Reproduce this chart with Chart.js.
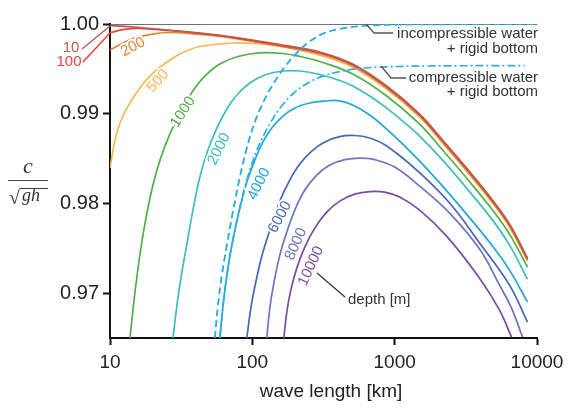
<!DOCTYPE html>
<html>
<head>
<meta charset="utf-8">
<script src="https://cdn.jsdelivr.net/npm/chart.js@4.4.1/dist/chart.umd.min.js"></script>
<style>
  html, body { margin: 0; padding: 0; background: #fff; }
  canvas { display: block; }
</style>
</head>
<body>
<canvas id="chart" width="573" height="408"></canvas>
<script>
// [wave length km, c/sqrt(gh)], one list per depth
const depth10 = [[10, 0.99983], [16.24, 0.99961], [25.12, 0.99933], [42.81, 0.999], [72.99, 0.99855], [163.7, 0.99766], [297.7, 0.99688], [507.4, 0.99554], [878.5, 0.99309], [1498, 0.98996], [2172, 0.98706], [3201, 0.98394], [4872, 0.98037], [6412, 0.9777], [8577, 0.9739]];
const depth100 = [[10, 0.999], [11.75, 0.99931], [13.81, 0.99946], [16.24, 0.99952], [25.12, 0.99928], [42.81, 0.99895], [72.99, 0.99849], [163.7, 0.99757], [297.7, 0.99679], [507.4, 0.99545], [878.5, 0.993], [1498, 0.98987], [2172, 0.98697], [3201, 0.98385], [4872, 0.98028], [6412, 0.97761], [8577, 0.97381]];
const depth200 = [[10, 0.9971], [11.75, 0.99771], [14.5, 0.99838], [19.09, 0.99883], [25.12, 0.99905], [42.81, 0.99883], [72.99, 0.99842], [163.7, 0.99746], [297.7, 0.99668], [507.4, 0.99534], [878.5, 0.99289], [1498, 0.98976], [2172, 0.98686], [3201, 0.98374], [4872, 0.98017], [6412, 0.9775], [8577, 0.9737]];
const depth500 = [[10, 0.98394], [10.84, 0.98706], [11.75, 0.98896], [13.16, 0.99063], [14.98, 0.99208], [17.04, 0.99331], [19.09, 0.9942], [25.12, 0.99576], [32.53, 0.99682], [42.81, 0.99749], [72.99, 0.99788], [126.4, 0.99772], [192.4, 0.99725], [297.7, 0.99653], [507.4, 0.99519], [878.5, 0.99274], [1498, 0.98961], [2172, 0.98671], [3201, 0.98359], [4872, 0.98002], [6412, 0.97735], [8577, 0.97355]];
const depth1000 = [[13.81, 0.965], [15.22, 0.97101], [17.04, 0.97647], [19.09, 0.9806], [21.37, 0.98372], [24.32, 0.98639], [28.59, 0.98896], [33.6, 0.99108], [39.49, 0.99286], [46.42, 0.9942], [59.15, 0.99554], [81.71, 0.99643], [112.9, 0.99679], [163.7, 0.99671], [215.4, 0.99638], [297.7, 0.99582], [507.4, 0.99442], [878.5, 0.99197], [1498, 0.98885], [2172, 0.98595], [3201, 0.98283], [4872, 0.97926], [6412, 0.97658], [8577, 0.9729]];
const depth2000 = [[27.68, 0.965], [30, 0.96945], [32.01, 0.97234], [35.27, 0.97614], [38.86, 0.97982], [42.81, 0.98294], [48.72, 0.98595], [56.35, 0.9884], [66.24, 0.99052], [77.87, 0.99208], [96.04, 0.99342], [122.4, 0.99431], [163.7, 0.99476], [215.4, 0.99476], [297.7, 0.99437], [411.2, 0.9937], [507.4, 0.99309], [667.5, 0.99197], [878.5, 0.99063], [1138, 0.98918], [1498, 0.98751], [2172, 0.98483], [3201, 0.98171], [4872, 0.97814], [6412, 0.97535], [8577, 0.97156]];
const depth4000 = [[59.15, 0.965], [63.1, 0.96945], [68.42, 0.97346], [75.39, 0.97703], [83.05, 0.97993], [91.5, 0.98238], [104.1, 0.98483], [118.5, 0.98684], [137, 0.9884], [161.1, 0.98963], [198.8, 0.99063], [253.2, 0.99119], [322.7, 0.99141], [411.2, 0.99144], [507.4, 0.99097], [667.5, 0.98985], [878.5, 0.98829], [1138, 0.98662], [1498, 0.98472], [2172, 0.98193], [3201, 0.97881], [4872, 0.97524], [6412, 0.97257], [8577, 0.969]];
const depth6000 = [[91.5, 0.965], [97.6, 0.96833], [105.8, 0.97123], [116.6, 0.97413], [132.7, 0.97703], [156, 0.98026], [183.3, 0.9826], [215.4, 0.98439], [261.5, 0.98584], [322.7, 0.98684], [411.2, 0.98745], [524.1, 0.98757], [667.5, 0.98729], [878.5, 0.9864], [1427, 0.98372], [2432, 0.98004], [4146, 0.97513], [6412, 0.97089], [8577, 0.96677]];
const depth8000 = [[126.4, 0.965], [132.7, 0.96833], [141.6, 0.97112], [156, 0.97424], [174.6, 0.9768], [198.8, 0.97926], [233.6, 0.98149], [283.6, 0.98316], [349.9, 0.98428], [445.9, 0.98489], [568.1, 0.98506], [723.6, 0.98489], [1000, 0.98405], [1498, 0.98193], [2432, 0.97892], [3949, 0.97491], [5456, 0.97089], [6623, 0.96833], [7910, 0.9651]];
const depth10000 = [[166.4, 0.965], [174.6, 0.96788], [186.3, 0.97034], [205.3, 0.97279], [233.6, 0.97513], [274.6, 0.97725], [333.3, 0.97903], [411.2, 0.98026], [524.1, 0.98104], [667.5, 0.98132], [850.5, 0.98126], [1084, 0.98071], [1498, 0.97926], [2317, 0.97636], [3949, 0.97167], [5456, 0.96811], [6623, 0.9651]];
const incompressible = [[54.56, 0.965], [57.27, 0.96855], [61.09, 0.97201], [66.24, 0.97535], [72.99, 0.97903], [81.71, 0.98294], [91.5, 0.98617], [104.1, 0.98907], [120.4, 0.99141], [141.6, 0.99342], [169, 0.9952], [205.3, 0.99677], [253.2, 0.99805], [322.7, 0.999], [445.9, 0.99955], [667.5, 0.99982], [1084, 0.99993], [2432, 0.99998], [10000, 1.0]];
const compressible = [[59.15, 0.965], [63.1, 0.96945], [68.42, 0.97346], [75.39, 0.97703], [83.05, 0.98004], [91.5, 0.9826], [102.5, 0.98506], [116.6, 0.98718], [134.9, 0.98907], [158.5, 0.99074], [195.6, 0.99231], [249.2, 0.99348], [322.7, 0.99426], [411.2, 0.9947], [568.1, 0.99504], [878.5, 0.99523], [1761, 0.99532], [8171, 0.99537]];
const topLine = [[10, 1.0], [10000, 1.0]];

const xTicks = [10, 100, 1000, 10000];
const yTicks = [0.97, 0.98, 0.99, 1.00];

const colors = {
  d10: '#b55e4c', d100: '#e8453b', d200: '#e8833b', d500: '#f5b84c', d1000: '#52ae48',
  d2000: '#3dbdbd', d4000: '#1ea7df', d6000: '#4467b6', d8000: '#6d74c2', d10000: '#7a4ba4'
};

const toXY = pts => pts.map(p => ({ x: p[0], y: p[1] }));
function curve(label, pts, color, order, extra) {
  return Object.assign({
    label: label, data: toXY(pts), borderColor: color, borderWidth: 1.7,
    pointRadius: 0, fill: false, tension: 0.4, order: order
  }, extra || {});
}

const datasets = [
  curve('incompressible', incompressible, '#2aaee4', 0, { borderDash: [7, 4], borderWidth: 1.9 }),
  curve('compressible', compressible, '#2aaee4', 1, { borderDash: [8, 3, 2, 3], borderWidth: 1.7 }),
  curve('10', depth10, colors.d10, 2),
  curve('100', depth100, colors.d100, 3),
  curve('200', depth200, colors.d200, 4),
  curve('500', depth500, colors.d500, 5),
  curve('1000', depth1000, colors.d1000, 6),
  curve('2000', depth2000, colors.d2000, 7),
  curve('4000', depth4000, colors.d4000, 8),
  curve('6000', depth6000, colors.d6000, 9),
  curve('8000', depth8000, colors.d8000, 10),
  curve('10000', depth10000, colors.d10000, 11),
  curve('top', topLine, '#444', 20, { borderWidth: 1.5, tension: 0 })
];

// text along the curves, leader lines and the y axis fraction
const overlay = {
  id: 'overlay',
  afterDraw(chart) {
    const c = chart.ctx;
    c.save();
    const sans = '"Liberation Sans", Arial, sans-serif';

    function label(text, x, y, angle, color) {
      c.save();
      c.translate(x, y);
      c.rotate(angle * Math.PI / 180);
      c.font = '15px ' + sans;
      c.textAlign = 'center';
      c.textBaseline = 'middle';
      c.lineWidth = 4;
      c.strokeStyle = '#fff';
      c.strokeText(text, 0, 0);
      c.fillStyle = color;
      c.fillText(text, 0, 0);
      c.restore();
    }
    function path(pts, color, w) {
      c.beginPath();
      c.moveTo(pts[0][0], pts[0][1]);
      for (let i = 1; i < pts.length; i++) c.lineTo(pts[i][0], pts[i][1]);
      c.strokeStyle = color;
      c.lineWidth = w;
      c.stroke();
    }

    label('200', 133, 47, -28, colors.d200);
    label('500', 158, 81, -48, colors.d500);
    label('1000', 183, 112, -57, colors.d1000);
    label('2000', 219, 149, -64, colors.d2000);
    label('4000', 259, 184, -64, colors.d4000);
    label('6000', 280, 217, -62, colors.d6000);
    label('8000', 296, 244, -66, colors.d8000);
    label('10000', 311, 266, -65, colors.d10000);

    // labels of the shallow curves, left of the axis
    c.font = '15px ' + sans;
    c.textAlign = 'center';
    c.textBaseline = 'middle';
    c.fillStyle = colors.d10;
    c.fillText('10', 71, 48);
    c.fillStyle = colors.d100;
    c.fillText('100', 69, 62);
    path([[82, 49], [110, 26]], colors.d10, 1.5);
    path([[83, 62], [110, 33]], colors.d100, 1.5);

    // depth [m]
    path([[317, 273], [345, 297]], '#333', 1.2);
    c.fillStyle = '#333';
    c.textAlign = 'left';
    c.fillText('depth [m]', 348, 300);

    // asymptote notes
    path([[366, 24], [374, 33], [393, 33]], '#555', 1.3);
    path([[381, 66], [391, 78], [406, 78]], '#555', 1.3);
    c.textAlign = 'right';
    c.fillStyle = '#333';
    c.fillText('incompressible water', 538, 34);
    c.fillText('+ rigid bottom', 538, 49);
    c.fillText('compressible water', 538, 78);
    c.fillText('+ rigid bottom', 538, 92);

    // x axis title
    c.font = '19px ' + sans;
    c.textAlign = 'center';
    c.fillStyle = '#222';
    c.fillText('wave length [km]', 331, 392);

    // y axis title: c / sqrt(gh)
    c.fillStyle = '#333';
    c.textBaseline = 'alphabetic';
    c.font = 'italic 22px "Liberation Serif", serif';
    c.fillText('c', 28, 173);
    path([[8, 180.5], [48, 180.5]], '#444', 1.2);
    c.textAlign = 'left';
    c.font = '20px "Liberation Serif", serif';
    c.fillText('\u221A', 9, 204);
    c.font = 'italic 18px "Liberation Serif", serif';
    c.fillText('gh', 22, 201);
    path([[20, 188.5], [48, 188.5]], '#444', 1.1);
    c.restore();
  }
};

const ctx = document.getElementById('chart').getContext('2d');
const chart = new Chart(ctx, {
  type: 'line',
  data: { datasets: datasets },
  options: {
    responsive: false,
    animation: false,
    devicePixelRatio: 1,
    layout: { padding: { top: 24, right: 36, left: 0, bottom: 0 } },
    plugins: { legend: { display: false }, tooltip: { enabled: false } },
    scales: {
      x: {
        type: 'logarithmic',
        min: 10,
        max: 10000,
        afterBuildTicks: s => { s.ticks = xTicks.map(v => ({ value: v })); },
        afterFit: s => { s.height = 70; },
        ticks: {
          callback: v => String(v),
          autoSkip: false, maxRotation: 0,
          font: { family: 'Liberation Sans', size: 19 },
          color: '#222', padding: 6
        },
        grid: { drawOnChartArea: false, drawTicks: true, tickLength: 7, tickWidth: 2, tickColor: '#111' },
        border: { display: true, color: '#111', width: 2 }
      },
      y: {
        min: 0.965,
        max: 1.0,
        afterBuildTicks: s => { s.ticks = yTicks.map(v => ({ value: v })); },
        afterFit: s => { s.width = 110; },
        ticks: {
          callback: v => v.toFixed(2),
          font: { family: 'Liberation Sans', size: 20 },
          color: '#222', padding: 4
        },
        grid: { drawOnChartArea: false, drawTicks: true, tickLength: 7, tickWidth: 2, tickColor: '#111' },
        border: { display: true, color: '#111', width: 2 }
      }
    }
  },
  plugins: [overlay]
});
</script>
</body>
</html>
